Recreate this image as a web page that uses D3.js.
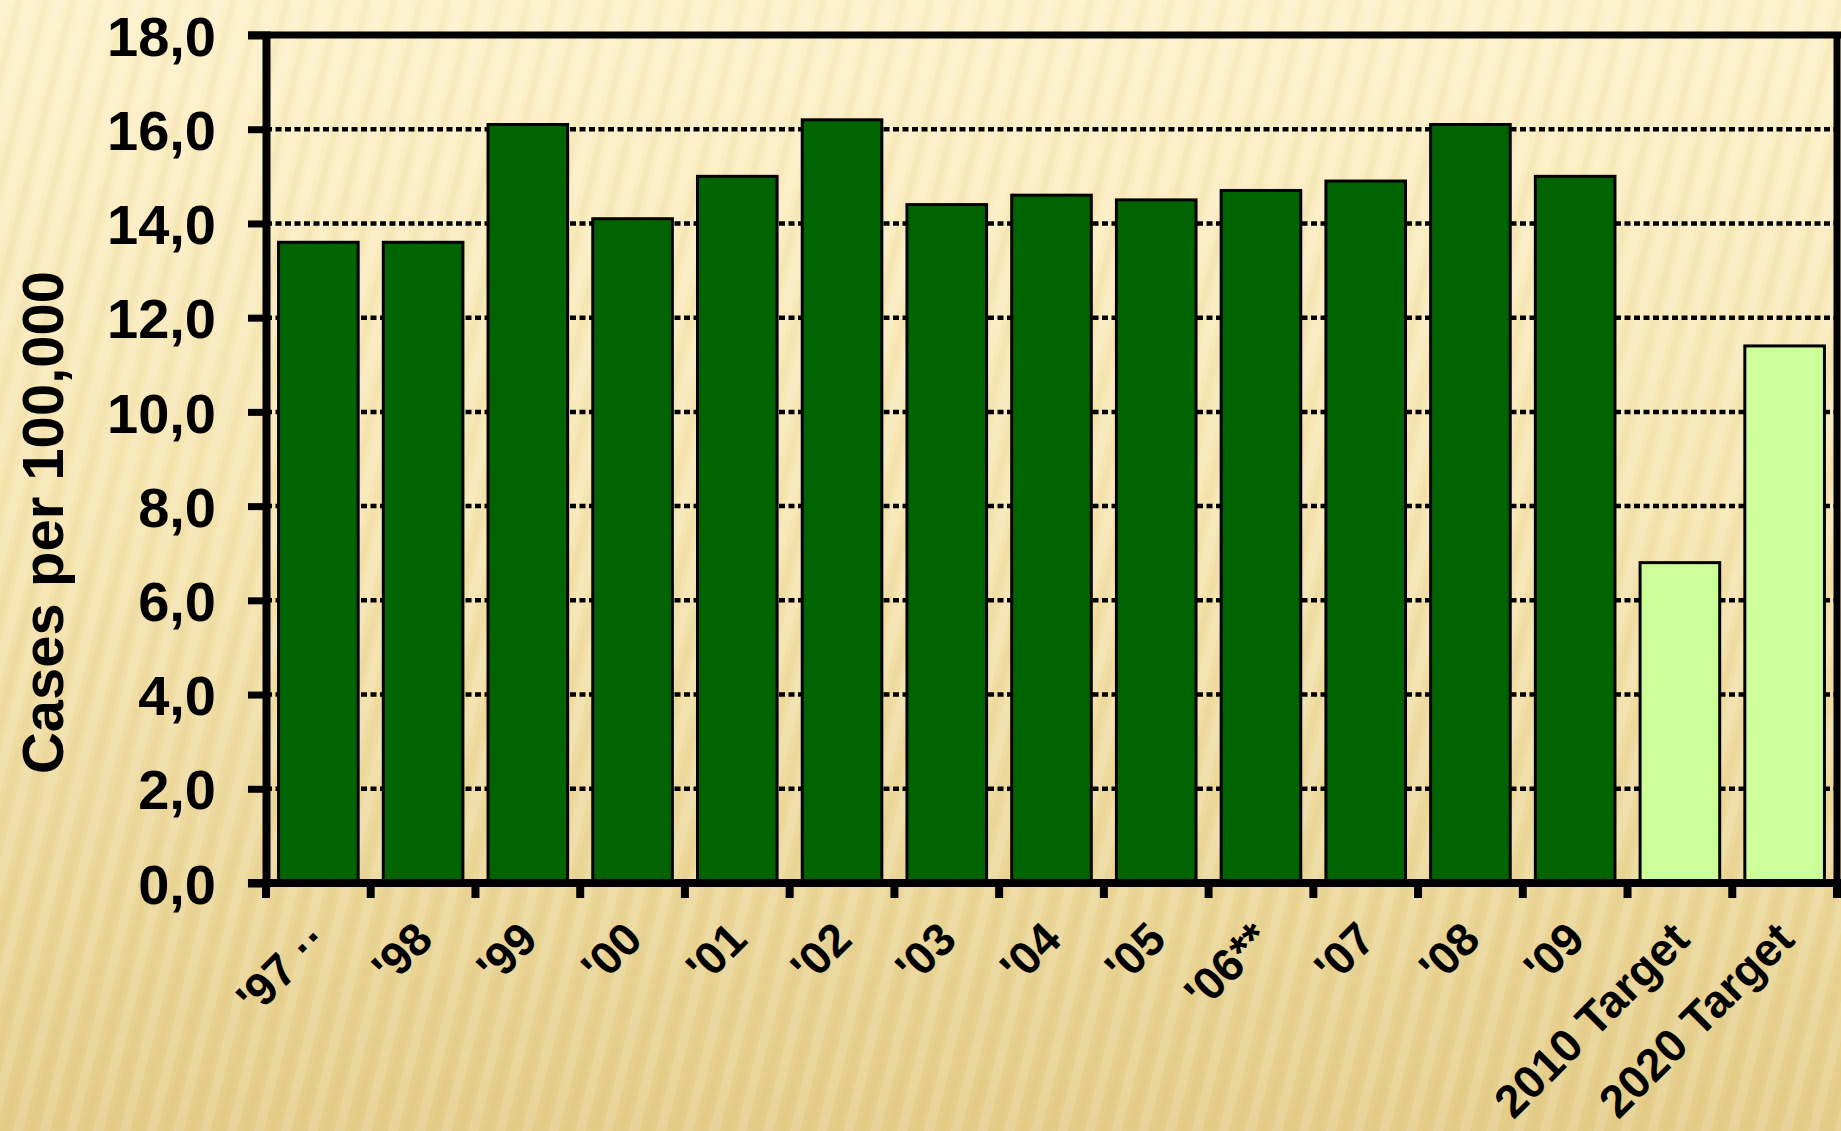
<!DOCTYPE html>
<html>
<head>
<meta charset="utf-8">
<script src="https://cdn.jsdelivr.net/npm/d3@7"></script>
<style>
html,body{margin:0;padding:0;background:#f3e2ab;}
svg{display:block;}
text{font-family:"Liberation Sans",Arial,sans-serif;font-weight:bold;fill:#000;}
</style>
</head>
<body>
<script>
const categories = ["'97 ··", "'98", "'99", "'00", "'01", "'02", "'03", "'04", "'05", "'06**", "'07", "'08", "'09", "2010 Target", "2020 Target"];
const values = [13.6, 13.6, 16.1, 14.1, 15.0, 16.2, 14.4, 14.6, 14.5, 14.7, 14.9, 16.1, 15.0, 6.8, 11.4];
const isTarget = [false, false, false, false, false, false, false, false, false, false, false, false, false, true, true];
const yTicks = [0, 2, 4, 6, 8, 10, 12, 14, 16, 18];
const yTickLabels = ["0,0", "2,0", "4,0", "6,0", "8,0", "10,0", "12,0", "14,0", "16,0", "18,0"];
const yTitle = "Cases per 100,000";

const W = 1841, H = 1131;
const L = 266, R = 1837, T = 35, B = 883;

const svg = d3.select("body").append("svg").attr("width", W).attr("height", H);
const defs = svg.append("defs");
const grad = defs.append("linearGradient").attr("id", "bg").attr("x1", 0).attr("y1", 0).attr("x2", 0).attr("y2", 1);
grad.append("stop").attr("offset", "0%").attr("stop-color", "#fdf1ca");
grad.append("stop").attr("offset", "45%").attr("stop-color", "#f6e5b1");
grad.append("stop").attr("offset", "100%").attr("stop-color", "#e4cd89");
const pat = defs.append("pattern").attr("id", "stripes").attr("patternUnits", "userSpaceOnUse")
  .attr("width", 26).attr("height", 26).attr("patternTransform", "rotate(14)");
pat.append("rect").attr("x", 0).attr("y", 0).attr("width", 10).attr("height", 26).attr("fill", "#ffffff").attr("opacity", 0.14);
pat.append("rect").attr("x", 15).attr("y", 0).attr("width", 7).attr("height", 26).attr("fill", "#c8a850").attr("opacity", 0.07);

svg.append("rect").attr("width", W).attr("height", H).attr("fill", "url(#bg)");
svg.append("rect").attr("width", W).attr("height", H).attr("fill", "url(#stripes)");

const x = d3.scaleBand().domain(categories).range([L, R]).paddingInner(0.24).paddingOuter(0.12);
const y = d3.scaleLinear().domain([0, 18]).range([B, T]);

// gridlines
svg.append("g").selectAll("line").data(yTicks.filter(d => d > 0 && d < 18)).join("line")
  .attr("x1", L).attr("x2", R).attr("y1", d => y(d)).attr("y2", d => y(d))
  .attr("stroke", "#000").attr("stroke-width", 4.5).attr("stroke-dasharray", "6,3.5");

// bars
svg.append("g").selectAll("rect").data(categories).join("rect")
  .attr("x", d => x(d)).attr("width", x.bandwidth())
  .attr("y", (d, i) => y(values[i])).attr("height", (d, i) => y(0) - y(values[i]))
  .attr("fill", (d, i) => isTarget[i] ? "#ccff99" : "#006400")
  .attr("stroke", "#000").attr("stroke-width", 3);

// frame
svg.append("line").attr("x1", L - 18).attr("x2", R + 4).attr("y1", T).attr("y2", T).attr("stroke", "#000").attr("stroke-width", 7);
svg.append("line").attr("x1", R).attr("x2", R).attr("y1", T).attr("y2", B).attr("stroke", "#000").attr("stroke-width", 7);

// y axis
const yAxis = d3.axisLeft(y).tickValues(yTicks).tickFormat((d, i) => yTickLabels[i]).tickSize(18).tickPadding(32);
const gy = svg.append("g").attr("transform", `translate(${L},0)`).call(yAxis);
gy.select(".domain").attr("stroke", "#000").attr("stroke-width", 8);
gy.selectAll(".tick line").attr("stroke", "#000").attr("stroke-width", 7);
gy.selectAll(".tick text").style("font-size", "56px").style("font-family", "'Liberation Sans',Arial,sans-serif").style("font-weight", "bold").attr("dy", "0.36em");

// x axis line + ticks at band boundaries
const bounds = categories.map(d => x(d) - x.step() * x.paddingInner() / 2);
bounds.push(R);
svg.append("line").attr("x1", L - 18).attr("x2", R + 4).attr("y1", B).attr("y2", B).attr("stroke", "#000").attr("stroke-width", 8);
svg.append("g").selectAll("line").data(bounds).join("line")
  .attr("x1", d => d).attr("x2", d => d).attr("y1", B).attr("y2", B + 15)
  .attr("stroke", "#000").attr("stroke-width", 8);

// x labels
svg.append("g").selectAll("text").data(categories).join("text")
  .attr("transform", d => `translate(${x(d) + x.bandwidth() / 2 + 12},${B + 59}) rotate(-45)`)
  .attr("text-anchor", "end")
  .style("font-size", "46px")
  .text(d => d);

// y title
svg.append("text")
  .attr("transform", `translate(${63},${(270 + 775) / 2}) rotate(-90)`)
  .attr("text-anchor", "middle")
  .style("font-size", "58px")
  .text(yTitle);
</script>
</body>
</html>
